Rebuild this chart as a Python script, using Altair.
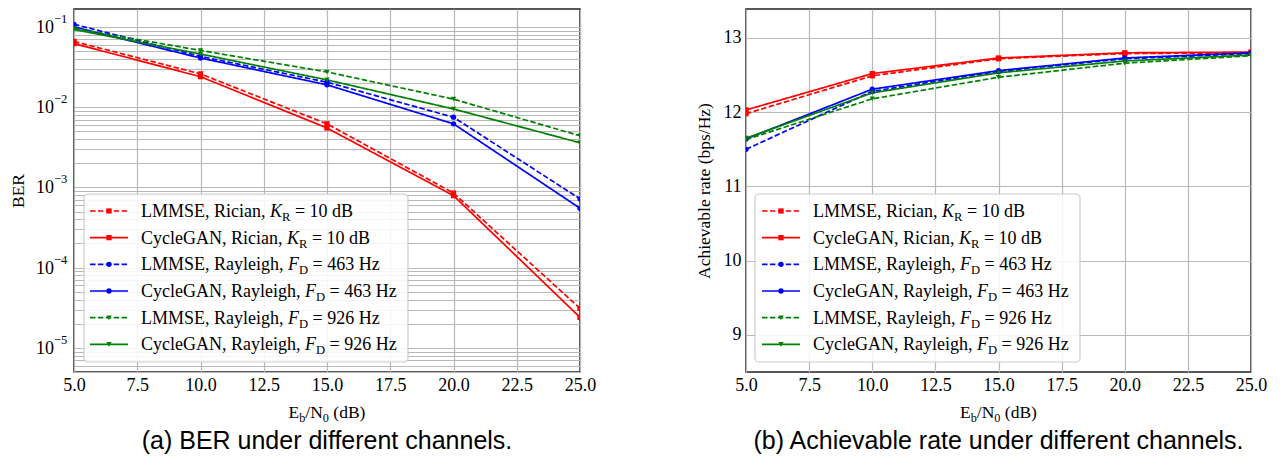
import altair as alt
import pandas as pd

# ---------------- data ----------------
snr = [5, 10, 15, 20, 25]
series_keys = ["lmmse_rician", "cyclegan_rician", "lmmse_ray463", "cyclegan_ray463", "lmmse_ray926", "cyclegan_ray926"]
methods = ["LMMSE", "CycleGAN", "LMMSE", "CycleGAN", "LMMSE", "CycleGAN"]
channels = ["Rician", "Rician", "Rayleigh463", "Rayleigh463", "Rayleigh926", "Rayleigh926"]

ber_lmmse_rician = [0.066, 0.026, 0.0062, 8.5e-4, 3.1e-5]
ber_cyclegan_rician = [0.062, 0.024, 0.0055, 7.9e-4, 2.4e-5]
ber_lmmse_ray463 = [0.108, 0.043, 0.0205, 0.0075, 7.2e-4]
ber_cyclegan_ray463 = [0.100, 0.041, 0.019, 0.0062, 5.5e-4]
ber_lmmse_ray926 = [0.096, 0.051, 0.0275, 0.0126, 0.0044]
ber_cyclegan_ray926 = [0.093, 0.046, 0.0219, 0.0095, 0.0036]

rate_lmmse_rician = [11.98, 12.49, 12.72, 12.79, 12.80]
rate_cyclegan_rician = [12.03, 12.52, 12.73, 12.80, 12.81]
rate_lmmse_ray463 = [11.50, 12.28, 12.55, 12.72, 12.79]
rate_cyclegan_ray463 = [11.64, 12.31, 12.56, 12.73, 12.80]
rate_lmmse_ray926 = [11.63, 12.18, 12.47, 12.66, 12.76]
rate_cyclegan_ray926 = [11.65, 12.26, 12.53, 12.69, 12.77]

legend_prefix = ["LMMSE, Rician, ", "CycleGAN, Rician, ", "LMMSE, Rayleigh, ",
                 "CycleGAN, Rayleigh, ", "LMMSE, Rayleigh, ", "CycleGAN, Rayleigh, "]
legend_var = ["K", "K", "F", "F", "F", "F"]
legend_sub = ["R", "R", "D", "D", "D", "D"]
legend_suffix = [" = 10 dB", " = 10 dB", " = 463 Hz", " = 463 Hz", " = 926 Hz", " = 926 Hz"]

caption_a = "(a) BER under different channels."
caption_b = "(b) Achievable rate under different channels."
ylabel_a = "BER"
ylabel_b = "Achievable rate (bps/Hz)"
x_ticks = [5.0, 7.5, 10.0, 12.5, 15.0, 17.5, 20.0, 22.5, 25.0]
rate_ticks = [9, 10, 11, 12, 13]
ber_major = [1e-1, 1e-2, 1e-3, 1e-4, 1e-5]
ber_major_base = ["10", "10", "10", "10", "10"]
ber_major_exp = ["−1", "−2", "−3", "−4", "−5"]

ber = [ber_lmmse_rician, ber_cyclegan_rician, ber_lmmse_ray463,
       ber_cyclegan_ray463, ber_lmmse_ray926, ber_cyclegan_ray926]
rate = [rate_lmmse_rician, rate_cyclegan_rician, rate_lmmse_ray463,
        rate_cyclegan_ray463, rate_lmmse_ray926, rate_cyclegan_ray926]

# ---------------- styles ----------------
chan_domain = ["Rician", "Rayleigh463", "Rayleigh926"]
chan_colors = ["#ff0000", "#0000ff", "#008000"]
chan_shapes = ["square", "circle", "triangle-down"]
col_of = dict(zip(chan_domain, chan_colors))
shape_of = dict(zip(chan_domain, chan_shapes))
DASH = [5.5, 2.4]
H = 363
SERIF = "Liberation Serif"
TICK_FS = 18
OFF = 8  # vertical offset of in-plot annotations

rows = []
for i, key in enumerate(series_keys):
    for j, x in enumerate(snr):
        rows.append({"x": x, "ber": ber[i][j], "rate": rate[i][j], "series": key,
                     "method": methods[i], "channel": channels[i]})
df = pd.DataFrame(rows)
major_df = pd.DataFrame({"ber": ber_major, "b": ber_major_base, "e": ber_major_exp})

# Times metrics (per 1000 em)
TR = {'L': 611, 'M': 889, 'S': 556, 'E': 611, ',': 250, ' ': 250, 'R': 667, 'i': 278, 'c': 444,
      'a': 444, 'n': 500, 'C': 667, 'y': 500, 'l': 278, 'e': 444, 'G': 722, 'A': 722, 'N': 722,
      'g': 500, 'h': 500, '=': 564, 'd': 500, 'B': 667, 'H': 722, 'z': 444, '/': 278, '(': 333,
      ')': 333, 'b': 500, 'D': 722, 'K': 722, 'F': 556}
TI = {'K': 667, 'F': 611}


def tw(s, size, italic=False):
    tot = 0
    for ch in s:
        if ch.isdigit():
            tot += 500
        elif italic and ch in TI:
            tot += TI[ch]
        else:
            tot += TR.get(ch, 500)
    return tot * size / 1000.0


def layout_segments(segs, x0, base_y, size):
    out = []
    x = x0
    sub = size * 0.7
    for text, kind in segs:
        fs = sub if kind == "s" else size
        it = kind == "i"
        stripped = text.lstrip(" ")
        lead = len(text) - len(stripped)
        x += tw(" " * lead, fs)
        out.append({"t": stripped.rstrip(" "), "px": x, "py": base_y + (size * 0.22 if kind == "s" else 0),
                    "fs": fs, "italic": it})
        x += tw(stripped, fs, it)
    return out


def seg_width(segs, size):
    w = 0
    for text, kind in segs:
        fs = size * 0.7 if kind == "s" else size
        w += tw(text, fs, kind == "i")
    return w


def build_text(width):
    LEG_FS = 18
    leg_y = [210 - OFF + i * 26.67 for i in range(6)]
    leg_rows, leg_text = [], []
    for i in range(6):
        leg_rows.append({"ly": leg_y[i], "col": col_of[channels[i]], "shp": shape_of[channels[i]],
                         "method": methods[i]})
        segs = [(legend_prefix[i], "n"), (legend_var[i], "i"), (legend_sub[i], "s"), (legend_suffix[i], "n")]
        leg_text += layout_segments(segs, 67, leg_y[i] + 6, LEG_FS)
    XT_FS = 17.5
    xt_segs = [("E", "n"), ("b", "s"), ("/N", "n"), ("0", "s"), (" (dB)", "n")]
    xt_rows = layout_segments(xt_segs, width / 2 - seg_width(xt_segs, XT_FS) / 2, 417 - OFF, XT_FS)
    return pd.DataFrame(leg_rows), pd.DataFrame(leg_text + xt_rows)


# grid values for log axis
ber_grid = []
for k in range(-6, 0):
    for m in range(1, 10):
        v = float(f"{m}e{k}")
        if 5.0e-6 <= v <= 0.2:
            ber_grid.append(v)

GRID = "#b8b8b8"
x_axis = alt.Axis(values=x_ticks, format=".1f", title=None, grid=True, gridColor=GRID, gridWidth=1.2,
                  domain=False, ticks=False, labelFont=SERIF, labelFontSize=TICK_FS, labelColor="black",
                  labelPadding=4, labelFlush=False, labelOverlap=False)


def panel(field, yscale, yaxis, width, legend_x0, legend_x1, caption, log_labels=False):
    leg_df, text_df = build_text(width)
    base = alt.Chart(df)
    x = alt.X("x:Q", scale=alt.Scale(domain=[5, 25], nice=False), axis=x_axis)
    y = alt.Y(f"{field}:Q", scale=yscale, axis=yaxis)
    color = alt.Color("channel:N", scale=alt.Scale(domain=chan_domain, range=chan_colors), legend=None)
    lines = base.mark_line(strokeWidth=1.7, clip=True).encode(
        x=x, y=y, color=color,
        strokeDash=alt.StrokeDash("method:N", scale=alt.Scale(domain=["LMMSE", "CycleGAN"], range=[DASH, [1, 0]]),
                                  legend=None),
        detail="series:N")
    pts = base.mark_point(filled=True, opacity=1, size=28, clip=True).encode(
        x=x, y=y, color=color,
        shape=alt.Shape("channel:N", scale=alt.Scale(domain=chan_domain, range=chan_shapes), legend=None))
    inner = [lines, pts]
    if log_labels:
        mb = alt.Chart(major_df)
        yl = alt.Y("ber:Q")
        inner.append(mb.mark_text(align="right", baseline="alphabetic", font=SERIF, fontSize=TICK_FS,
                                  color="black", dy=6).encode(x=alt.value(-20), y=yl, text="b:N"))
        inner.append(mb.mark_text(align="left", baseline="alphabetic", font=SERIF, fontSize=12.6,
                                  color="black", dy=-4).encode(x=alt.value(-20), y=yl, text="e:N"))
    data_layer = alt.layer(*inner)

    box = alt.Chart(pd.DataFrame({"a": [0]})).mark_rect(
        fill="white", fillOpacity=0.85, stroke="#cccccc", strokeWidth=1.2, cornerRadius=4).encode(
        x=alt.value(legend_x0), x2=alt.value(legend_x1), y=alt.value(193 - OFF), y2=alt.value(361 - OFF))
    lbase = alt.Chart(leg_df)
    ly = alt.Y("ly:Q", scale=None, axis=None)
    lcol = alt.Color("col:N", scale=None, legend=None)
    dashed = lbase.transform_filter(alt.datum.method == "LMMSE").mark_rule(strokeWidth=1.7, strokeDash=DASH).encode(
        x=alt.value(16), x2=alt.value(54), y=ly, color=lcol)
    solid = lbase.transform_filter(alt.datum.method == "CycleGAN").mark_rule(strokeWidth=1.7).encode(
        x=alt.value(16), x2=alt.value(54), y=ly, color=lcol)
    lpts = lbase.mark_point(filled=True, opacity=1, size=28).encode(
        x=alt.value(35), y=ly, color=lcol, shape=alt.Shape("shp:N", scale=None, legend=None))

    tbase = alt.Chart(text_df)
    tenc = dict(x=alt.X("px:Q", scale=None, axis=None), y=alt.Y("py:Q", scale=None, axis=None),
                text="t:N", size=alt.Size("fs:Q", scale=None, legend=None))
    tn = tbase.transform_filter(alt.datum.italic == False).mark_text(
        align="left", baseline="alphabetic", font=SERIF, color="black").encode(**tenc)
    ti = tbase.transform_filter(alt.datum.italic == True).mark_text(
        align="left", baseline="alphabetic", font=SERIF, fontStyle="italic", color="black").encode(**tenc)
    cap = alt.Chart(pd.DataFrame({"c": [caption]})).mark_text(
        align="center", baseline="alphabetic", font="Liberation Sans", fontSize=25, color="black").encode(
        x=alt.value(width / 2), y=alt.value(440), text="c:N")

    return alt.layer(data_layer, box, dashed, solid, lpts, tn, ti, cap).resolve_scale(
        x="independent", y="independent", color="independent", shape="independent",
        size="independent").properties(width=width, height=H)


ber_axis = alt.Axis(values=ber_grid, labels=False, title=ylabel_a, grid=True, gridColor=GRID,
                    gridWidth=1.2, domain=False, ticks=False,
                    titleFont=SERIF, titleFontSize=17.5, titleFontWeight="normal", titleColor="black",
                    titlePadding=7, minExtent=40, maxExtent=40)
rate_axis = alt.Axis(values=rate_ticks, format="d", title=ylabel_b, grid=True, gridColor=GRID,
                     gridWidth=1.2, domain=False, ticks=False, labelFont=SERIF, labelFontSize=TICK_FS,
                     labelColor="black", labelPadding=5, labelOverlap=False, labelFlush=False,
                     titleFont=SERIF, titleFontSize=17.5, titleFontWeight="normal", titleColor="black",
                     titlePadding=8, minExtent=25, maxExtent=25)

left = panel("ber", alt.Scale(type="log", domain=[5.0e-6, 0.1675], nice=False), ber_axis, 506, 10, 334,
             caption_a, log_labels=True)
right = panel("rate", alt.Scale(domain=[8.5, 13.39], nice=False, zero=False), rate_axis, 505, 9, 334, caption_b)

chart = alt.hconcat(left, right, spacing=166, bounds="flush").properties(
    padding={"left": 0, "top": 0, "right": 0, "bottom": 0}
).configure_view(stroke="#222222", strokeWidth=1.5)

chart.save("out.html", embed_options={"renderer": "svg", "actions": False})
